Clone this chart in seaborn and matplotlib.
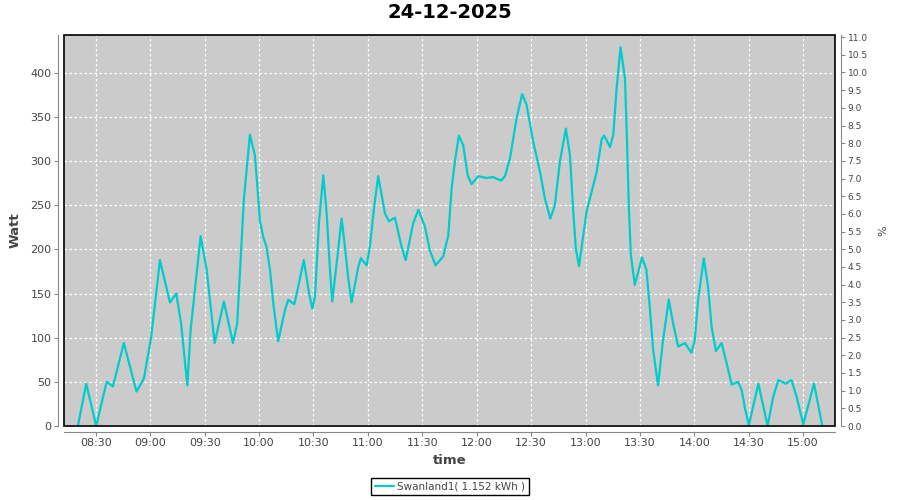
import pandas as pd
import numpy as np
import seaborn as sns
import matplotlib.pyplot as plt
import matplotlib.dates as mdates
from matplotlib.patches import Rectangle

# data (time of day, watt)
times = ["08:20:05", "08:24:40", "08:30:10", "08:35:55", "08:39:25", "08:45:25", "08:52:25",
         "08:56:30", "09:00:30", "09:05:20", "09:10:50", "09:14:20", "09:17:00", "09:20:25",
         "09:22:15", "09:27:45", "09:31:05", "09:35:30", "09:40:35", "09:45:35", "09:47:55",
         "09:51:35", "09:54:55", "09:57:40", "09:59:30", "10:00:25", "10:02:20", "10:04:05",
         "10:06:00", "10:07:50", "10:10:30", "10:14:15", "10:16:05", "10:19:25", "10:21:35",
         "10:24:40", "10:27:35", "10:29:20", "10:30:50", "10:33:00", "10:35:25", "10:37:15",
         "10:39:05", "10:40:20", "10:42:45", "10:45:30", "10:47:20", "10:49:05", "10:51:00",
         "10:54:40", "10:56:05", "10:59:20", "11:01:05", "11:03:30", "11:05:40", "11:09:25",
         "11:11:35", "11:14:55", "11:18:35", "11:20:50", "11:25:00", "11:27:50", "11:31:25",
         "11:34:10", "11:37:20", "11:41:30", "11:44:20", "11:46:10", "11:48:00", "11:50:10",
         "11:52:35", "11:55:00", "11:57:10", "12:00:50", "12:05:30", "12:09:05", "12:13:25",
         "12:15:35", "12:18:20", "12:22:00", "12:25:05", "12:27:30", "12:31:10", "12:34:55",
         "12:37:35", "12:40:35", "12:43:05", "12:45:55", "12:49:10", "12:51:25", "12:53:15",
         "12:54:40", "12:56:25", "12:58:45", "13:00:35", "13:03:20", "13:06:10", "13:08:55",
         "13:10:20", "13:13:30", "13:15:20", "13:17:10", "13:19:20", "13:21:45", "13:22:40",
         "13:23:55", "13:25:00", "13:27:10", "13:31:10", "13:33:35", "13:35:25", "13:37:20",
         "13:40:00", "13:42:45", "13:45:55", "13:48:20", "13:51:05", "13:54:50", "13:58:25",
         "14:00:15", "14:02:05", "14:05:15", "14:07:35", "14:09:30", "14:11:55", "14:15:05",
         "14:17:50", "14:20:35", "14:24:10", "14:26:05", "14:27:55", "14:30:05", "14:35:20",
         "14:40:25", "14:43:30", "14:46:20", "14:50:20", "14:53:35", "14:56:25", "15:00:05",
         "15:06:00", "15:10:35"]
watt = [0, 48, 0, 50, 45, 94, 39,
        54, 101, 188, 140, 150, 116, 46,
        109, 215, 177, 94, 141, 94, 116,
        256, 330, 307, 260, 233, 214, 203,
        177, 139, 96, 131, 143, 138, 158,
        188, 150, 133, 147, 230, 284, 241,
        177, 141, 184, 235, 203, 169, 140,
        180, 190, 182, 203, 249, 283, 241,
        232, 236, 203, 188, 230, 245, 226,
        199, 182, 192, 216, 269, 300, 329,
        318, 284, 274, 283, 281, 282, 278,
        283, 303, 349, 376, 364, 322, 288,
        258, 235, 250, 300, 337, 307, 243,
        201, 181, 216, 243, 265, 288, 325,
        329, 316, 330, 383, 429, 394, 337,
        247, 194, 160, 191, 177, 135, 86,
        46, 97, 143, 116, 90, 94, 83,
        97, 143, 190, 158, 113, 85, 94,
        71, 47, 50, 41, 20, 1, 48,
        0, 33, 52, 48, 52, 33, 2,
        48, 0]

day = "2025-12-24"
title = "24-12-2025"
series_name = "Swanland1( 1.152 kWh )"
pct_ticks = np.arange(0, 11.01, 0.5)

df = pd.DataFrame({"time": pd.to_datetime([day + " " + t for t in times]), "watt": watt})

sns.set_style("white")
plt.rcParams['font.family'] = ['DejaVu Sans']

fig = plt.figure(figsize=(9, 5), dpi=100)
ax = fig.add_axes([64 / 900, 74 / 500, 771 / 900, 391 / 500])
ax.set_facecolor("#cbcbcb")

sns.lineplot(data=df, x="time", y="watt", ax=ax, color="#00cccc", linewidth=1.6,
             label=series_name, legend=False)

ax.set_xlim(pd.Timestamp(day + " 08:12:25"), pd.Timestamp(day + " 15:17:35"))
ax.set_ylim(0, 443)
ax.set_yticks(range(0, 401, 50))
ax.xaxis.set_major_locator(mdates.MinuteLocator(byminute=[0, 30]))
ax.xaxis.set_major_formatter(mdates.DateFormatter("%H:%M"))

ax.grid(True, color="white", linestyle=(0, (2, 2)), linewidth=0.9)
ax.set_axisbelow(True)

gray = "#888888"
for s in ["top", "right"]:
    ax.spines[s].set_visible(False)
for s in ["left", "bottom"]:
    ax.spines[s].set_position(("outward", 4))
    ax.spines[s].set_color(gray)
ax.tick_params(axis="both", direction="out", length=3, width=0.8, color=gray,
               labelsize=8, labelcolor="#444444", pad=2, left=True, bottom=True)

ax.add_patch(Rectangle((0, 0), 1, 1, transform=ax.transAxes, fill=False,
                       edgecolor="black", linewidth=1.2, clip_on=False, zorder=5))

ax.set_xlabel("time", fontsize=9.5, fontweight="bold", color="#444444", labelpad=4)
ax.set_ylabel("Watt", fontsize=9.5, fontweight="bold", color="#444444", labelpad=6)

# right axis in percent, no series on it
ax2 = ax.twinx()
ax2.set_ylim(0, 11.06)
ax2.set_yticks(pct_ticks)
ax2.set_yticklabels([f"{v:.1f}" for v in pct_ticks])
for s in ["top", "left", "bottom"]:
    ax2.spines[s].set_visible(False)
ax2.spines["right"].set_position(("outward", 4))
ax2.spines["right"].set_color(gray)
ax2.tick_params(axis="y", direction="out", length=3, width=0.8, color=gray,
                labelsize=6.5, labelcolor="#444444", pad=2, right=True)
ax2.set_ylabel("%", fontsize=8, color="#444444", labelpad=8)

fig.suptitle(title, fontsize=14, fontweight="bold", color="black", y=0.995, va="top")

handles, labels = ax.get_legend_handles_labels()
fig.legend(handles, labels, loc="lower center", bbox_to_anchor=(0.5, 0.0), ncol=1,
           fontsize=7.5, frameon=True, fancybox=False, edgecolor="black", framealpha=1,
           borderpad=0.35, handlelength=1.8, handletextpad=0.3, labelcolor="#444444")

fig.savefig("out.png", dpi=100)
